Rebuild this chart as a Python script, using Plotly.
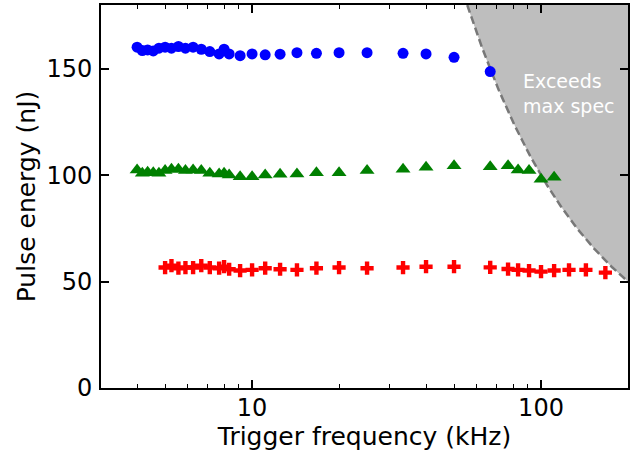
import numpy as np
import plotly.graph_objects as go

# --- data ---
freq_blue = [4.0, 4.17, 4.35, 4.55, 4.76, 5.0, 5.26, 5.56, 5.88, 6.25, 6.67, 7.14, 7.69, 8.0, 8.33,
             9.09, 10.0, 11.1, 12.5, 14.3, 16.7, 20.0, 25.0, 33.3, 40.0, 50.0, 66.7]
energy_blue = [160.2, 158.6, 158.9, 158.4, 159.7, 160.2, 159.7, 160.5, 159.7, 160.2, 159.2, 158.1, 157.0,
               159.2, 157.0, 156.2, 157.0, 156.6, 156.9, 157.6, 157.3, 157.6, 157.6, 157.3, 157.0, 155.4, 148.7]

freq_green = [4.0, 4.17, 4.35, 4.55, 4.76, 5.0, 5.26, 5.56, 5.88, 6.25, 6.67, 7.14, 7.69, 8.0, 8.33,
              9.09, 10.0, 11.1, 12.5, 14.3, 16.7, 20.0, 25.0, 33.3, 40.0, 50.0, 66.7, 76.9, 83.3, 90.9,
              100.0, 111.0]
energy_green = [102.5, 100.9, 101.4, 101.2, 100.9, 102.2, 102.8, 102.8, 102.2, 102.5, 102.2, 100.9, 100.6,
                100.9, 100.1, 99.3, 99.3, 100.1, 100.5, 100.6, 101.2, 101.2, 102.2, 102.8, 103.7, 104.5,
                104.0, 104.5, 102.5, 102.2, 98.1, 99.0]

freq_red = [5.0, 5.26, 5.56, 5.88, 6.25, 6.67, 7.14, 7.69, 8.0, 8.33, 9.09, 10.0, 11.1, 12.5, 14.3,
            16.7, 20.0, 25.0, 33.3, 40.0, 50.0, 66.7, 76.9, 83.3, 90.9, 100.0, 111.0, 125.0, 143.0, 167.0]
energy_red = [56.6, 57.5, 56.3, 56.6, 56.6, 57.5, 56.6, 56.3, 57.0, 55.8, 55.2, 55.5, 56.3, 55.8, 55.5,
              56.3, 56.6, 56.3, 56.6, 57.0, 57.0, 56.7, 55.9, 55.5, 55.2, 54.7, 55.2, 55.5, 55.5, 54.2]

max_power = 10000.0  # nJ * kHz : spec limit E = P / f
x_min, x_max = 3.0, 200.0
y_min, y_max = 0.0, 180.0
x_ticks = [10, 100]
x_minor = [4, 5, 6, 7, 8, 9, 20, 30, 40, 50, 60, 70, 80, 90]
y_ticks = [0, 50, 100, 150]

# spec boundary curve
f_curve = np.logspace(np.log10(max_power / y_max), np.log10(x_max), 200)
e_curve = max_power / f_curve

fig = go.Figure()
fig.add_trace(go.Scatter(
    x=list(f_curve) + [x_max, f_curve[0]],
    y=list(e_curve) + [y_max, y_max],
    fill="toself", fillcolor="#bebebe", mode="none", hoverinfo="skip", showlegend=False))
fig.add_trace(go.Scatter(
    x=f_curve, y=e_curve, mode="lines",
    line=dict(color="#787878", width=2.5, dash="8px,4px"), showlegend=False))

fig.add_trace(go.Scatter(x=freq_blue, y=energy_blue, mode="markers",
                         marker=dict(symbol="circle", size=11, color="#0000ff"), showlegend=False))
fig.add_trace(go.Scatter(x=freq_green, y=energy_green, mode="markers",
                         marker=dict(symbol="triangle-up", size=13, color="#008000"), showlegend=False))
fig.add_trace(go.Scatter(x=freq_red, y=energy_red, mode="markers",
                         marker=dict(symbol="cross", size=11, color="#ff0000"), showlegend=False))

fig.add_annotation(x=np.log10(124.5), y=138.5, text="Exceeds<br>max spec", showarrow=False,
                   font=dict(family="DejaVu Sans", size=19, color="white"), align="left")

font_family = "DejaVu Sans"
fig.update_layout(
    width=631, height=451,
    margin=dict(l=101, r=3, t=5, b=63),
    paper_bgcolor="white", plot_bgcolor="white",
    font=dict(family=font_family, size=24, color="black"),
    xaxis=dict(type="log", range=[np.log10(x_min), np.log10(x_max)],
               tickvals=x_ticks, ticktext=[str(v) for v in x_ticks],
               ticks="inside", ticklen=8, tickwidth=1.5, tickcolor="black",
               minor=dict(tickvals=x_minor, ticks="inside", ticklen=4, tickwidth=1, tickcolor="black"),
               showline=True, linewidth=2, linecolor="black", mirror="allticks",
               showgrid=False, zeroline=False, automargin=False, ticklabelstandoff=-3,
               title=dict(text="Trigger frequency (kHz)", font=dict(size=25), standoff=6),
               tickfont=dict(size=24)),
    yaxis=dict(range=[y_min, y_max], tickvals=y_ticks,
               ticks="inside", ticklen=8, tickwidth=1.5, tickcolor="black",
               showline=True, linewidth=2, linecolor="black", mirror="allticks",
               showgrid=False, zeroline=False, automargin=False, ticklabelstandoff=2,
               title=dict(text="Pulse energy (nJ)", font=dict(size=25), standoff=4),
               tickfont=dict(size=24)),
)

fig.write_html("out.html", config={"displayModeBar": False},
               post_script="document.body.style.margin='0';document.body.style.overflow='hidden';")
